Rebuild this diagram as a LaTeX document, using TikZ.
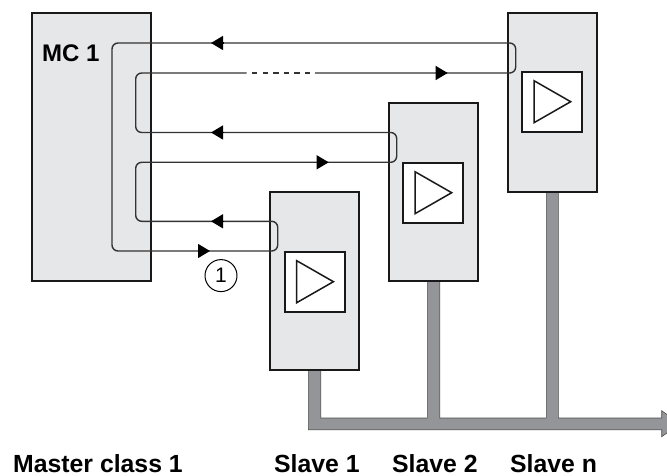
\documentclass[tikz,border=0pt]{standalone}
\usepackage{fontspec}
\setmainfont{Liberation Sans}
\usetikzlibrary{arrows.meta}
\definecolor{boxgray}{HTML}{E6E7E8}
\definecolor{busgray}{HTML}{939598}
\definecolor{wiregray}{HTML}{333333}
\tikzset{
  unit/.style={draw=black!90, line width=2pt, fill=boxgray, inner sep=0pt, minimum width=89pt},
  ampbox/.style={draw=black!90, line width=2pt, fill=white, inner sep=0pt, minimum width=60pt, minimum height=60pt},
  amp/.style={draw=black!90, line width=1.5pt, line join=miter, fill=white},
  wire/.style={draw=wiregray, line width=1.4pt, rounded corners=6pt},
  head/.style={-{Triangle[length=12pt,width=14pt]}, draw=black, line width=1.2pt},
  caption/.style={font=\bfseries\fontsize{24.8}{24.8}\selectfont, inner sep=0pt, anchor=base west}
}
\begin{document}
\begin{tikzpicture}[x=1pt,y=-1pt]
  \useasboundingbox (0,0) rectangle (667,476);

  % bus
  \filldraw[fill=busgray, draw=black!70, line width=0.6pt]
     (308.3,370) -- (320.7,370) -- (320.7,418) -- (427.3,418) -- (427.3,281)
     -- (439.7,281) -- (439.7,418) -- (546.3,418) -- (546.3,192) -- (558.3,192)
     -- (558.3,418) -- (661.7,418) -- (661.7,410.7) -- (680,423.8) -- (661.7,436.7)
     -- (661.7,429.7) -- (308.3,429.7) -- cycle;

  % boxes
  \node[unit, minimum width=119pt, minimum height=268pt] (mc) at (91.3,147.2) {};
  \node[unit, minimum height=178.5pt] (slave1) at (314.6,280.9) {};
  \node[unit, minimum height=178.5pt] (slave2) at (433.3,191.9) {};
  \node[unit, minimum height=178.5pt] (slaven) at (552.3,102.6) {};

  \node[ampbox] (amp1) at (315,281.7) {};
  \node[ampbox] (amp2) at (433.3,192.7) {};
  \node[ampbox] (ampn) at (552.3,101.7) {};
  \foreach \a in {amp1,amp2,ampn}
    \draw[amp] ([shift={(-18.3,-21)}]\a.center) -- ([shift={(-18.3,21)}]\a.center)
       -- ([shift={(18.4,0)}]\a.center) -- cycle;

  % wire corners
  \coordinate (w1) at (112,43);
  \coordinate (w2) at (112,251);
  \coordinate (w3) at (277.7,251);
  \coordinate (w4) at (277.7,221.3);
  \coordinate (w5) at (135.7,221.3);
  \coordinate (w6) at (135.7,162.3);
  \coordinate (w7) at (396.7,162.3);
  \coordinate (w8) at (396.7,132.5);
  \coordinate (w9) at (135.7,132.5);
  \coordinate (w10) at (135.7,73);
  \coordinate (w11) at (246.7,73);
  \coordinate (w12) at (315,73);
  \coordinate (w13) at (515.7,73);
  \coordinate (w14) at (515.7,43);

  \draw[wire] (w11) -- (w10) -- (w9) -- (w8) -- (w7) -- (w6) -- (w5) -- (w4)
     -- (w3) -- (w2) -- (w1) -- (w14) -- (w13) -- (w12);
  \draw[wire, line width=1.6pt, dash pattern=on 5.3pt off 5.3pt, dash phase=5.3pt] (w11) -- (w12);

  % arrow heads
  \foreach \xa/\ya/\xb in {223/43/211, 223/132.5/211, 223/221.3/211,
                           197.7/251/210, 316.7/162.3/328.7, 435.7/73/447.7}
    \draw[head] (\xa,\ya) -- (\xb,\ya);

  % marker
  \node[draw, circle, line width=1pt, minimum size=32pt, inner sep=0pt,
        font=\fontsize{21}{21}\selectfont] (mark1) at (221,275.6) {1};

  % labels
  \node[caption, font=\bfseries\fontsize{24}{24}\selectfont] (mclabel) at (42,62) {MC 1};
  \node[caption] (lab0) at (13,472) {Master class 1};
  \node[caption] (lab1) at (274,472) {Slave 1};
  \node[caption] (lab2) at (392,472) {Slave 2};
  \node[caption] (labn) at (510,472) {Slave n};
\end{tikzpicture}
\end{document}
